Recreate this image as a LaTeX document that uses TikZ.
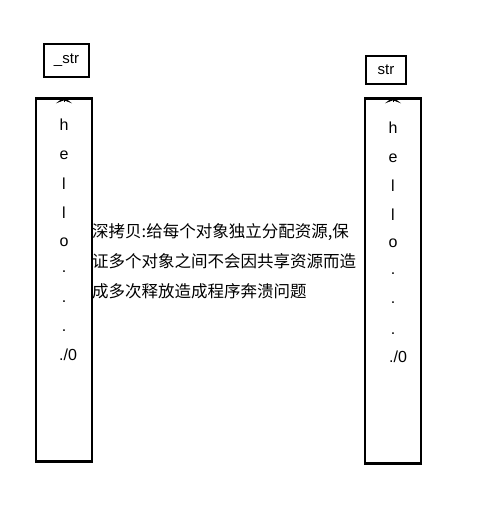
\documentclass[tikz,border=0pt]{standalone}
\usepackage{fontspec}
\setmainfont{Liberation Sans}
\newfontfamily\cjk{Noto Sans CJK SC}
\usetikzlibrary{arrows.meta}
\begin{document}
\begin{tikzpicture}[x=1pt,y=-1pt,
  lbl/.style={draw,line width=2.6pt,inner sep=0pt,font=\fontsize{15}{17}\selectfont},
  col/.style={draw,line width=2.4pt,inner sep=0pt},
  ch/.style={font=\fontsize{16}{18}\selectfont,inner sep=0pt},
  tipin/.style={-{Stealth[length=6pt,width=16pt,inset=3pt]},line width=1pt}]
\useasboundingbox (0,0) rectangle (499,513);
\node[lbl,minimum width=45pt,minimum height=33pt] (a) at (66.5,60.5) {\_str};
\node[lbl,minimum width=40pt,minimum height=28pt] (b) at (386,70) {str};
\node[col,minimum width=56pt,minimum height=363pt] (r1) at (64,280) {};
\node[col,minimum width=56pt,minimum height=365pt] (r2) at (393,281) {};
\coordinate (t1) at ([yshift=-5pt]r1.north);
\coordinate (t2) at ([yshift=-5pt]r2.north);
\draw[tipin] (t1) -- (r1.north);
\draw[tipin] (t2) -- (r2.north);
% left letters
\node[ch] (l1) at (64,125) {h};
\node[ch] (l2) at (64,155) {e};
\node[ch] (l3) at (64,184) {l};
\node[ch] (l4) at (64,213) {l};
\node[ch] (l5) at (64,242) {o};
\node[ch] (l6) at (64,272) {.};
\node[ch] (l7) at (64,302) {.};
\node[ch] (l8) at (64,331) {.};
\node[ch] (l9) at (68,355) {./0};
% right letters
\node[ch] (m1) at (393,128) {h};
\node[ch] (m2) at (393,158) {e};
\node[ch] (m3) at (393,186) {l};
\node[ch] (m4) at (393,215) {l};
\node[ch] (m5) at (393,243) {o};
\node[ch] (m6) at (393,274) {.};
\node[ch] (m7) at (393,303) {.};
\node[ch] (m8) at (393,334) {.};
\node[ch] (m9) at (398,357) {./0};
\node[anchor=north west,inner sep=0pt,align=left,font=\cjk\fontsize{16.5}{30}\selectfont] (txt) at (92,223)
  {深拷贝:给每个对象独立分配资源,保\\证多个对象之间不会因共享资源而造\\成多次释放造成程序奔溃问题};
\end{tikzpicture}
\end{document}
